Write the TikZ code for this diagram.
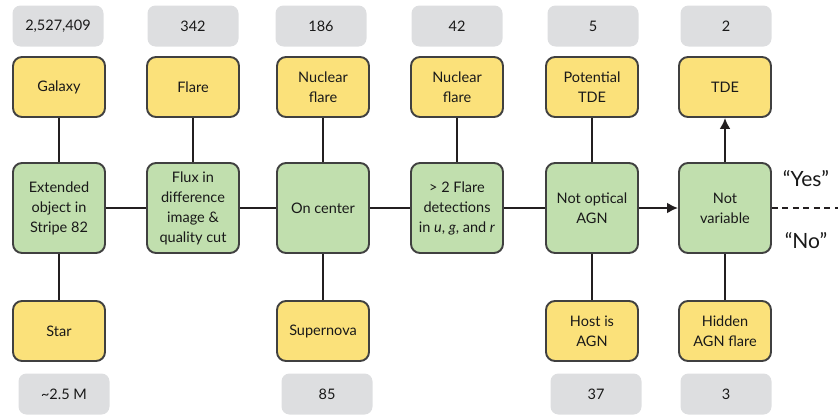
\documentclass[tikz,border=0pt]{standalone}
\usepackage{fontspec}
\setmainfont{Lato}
\usetikzlibrary{arrows.meta}
\definecolor{yel}{HTML}{FBE17A}
\definecolor{grn}{HTML}{C1DFAE}
\definecolor{gry}{HTML}{DDDEE0}
\definecolor{bord}{HTML}{404040}
\definecolor{ln}{HTML}{231F20}
\begin{document}
\begin{tikzpicture}[x=1pt,y=-1pt,
  base/.style={rounded corners=9pt,inner sep=0pt,align=center,font=\fontsize{14.5}{20}\selectfont,text=black!90},
  ybox/.style={base,draw=bord,line width=1.9pt,fill=yel,minimum width=92pt,minimum height=60pt},
  gbox/.style={base,draw=bord,line width=1.9pt,fill=grn,minimum width=92pt,minimum height=90pt},
  cnt/.style={base,fill=gry,rounded corners=8pt,minimum width=91pt,minimum height=41pt},
  conn/.style={draw=ln,line width=2.8pt},
  arr/.style={conn,-{Latex[length=11pt,width=11pt]}},
  ans/.style={font=\fontsize{21}{24}\selectfont,text=black!90}]
\useasboundingbox (0,0) rectangle (838,415);
% top counts
\node[cnt] (c1) at (58,26) {2,527,409};
\node[cnt] (c2) at (193,26) {342};
\node[cnt] (c3) at (321,26) {186};
\node[cnt] (c4) at (457,26) {42};
\node[cnt] (c5) at (593,26) {5};
\node[cnt] (c6) at (726,26) {2};
% top outcomes
\node[ybox] (y1) at (59,87) {Galaxy};
\node[ybox] (y2) at (193,87) {Flare};
\node[ybox] (y3) at (323,87) {Nuclear\\flare};
\node[ybox] (y4) at (457,87) {Nuclear\\flare};
\node[ybox] (y5) at (592,87) {Potential\\TDE};
\node[ybox] (y6) at (725,87) {TDE};
% criteria
\node[gbox] (g1) at (59,208) {Extended\\object in\\Stripe 82};
\node[gbox] (g2) at (193,208) {Flux in\\difference\\image \&\\quality cut};
\node[gbox] (g3) at (323,208) {On center};
\node[gbox] (g4) at (457,208) {> 2 Flare\\detections\\in \textit{u}, \textit{g}, and \textit{r}};
\node[gbox] (g5) at (592,208) {Not optical\\AGN};
\node[gbox] (g6) at (725,208) {Not\\variable};
% bottom outcomes
\node[ybox] (b1) at (59,331) {Star};
\node[ybox] (b3) at (323,331) {Supernova};
\node[ybox] (b5) at (592,331) {Host is\\AGN};
\node[ybox] (b6) at (725,331) {Hidden\\AGN flare};
% bottom counts
\node[cnt] (d1) at (64,394) {\textasciitilde 2.5 M};
\node[cnt] (d3) at (327,394) {85};
\node[cnt] (d5) at (596,394) {37};
\node[cnt] (d6) at (726,394) {3};
% connectors
\draw[conn] (g1) -- (g2);
\draw[conn] (g2) -- (g3);
\draw[conn] (g3) -- (g4);
\draw[conn] (g4) -- (g5);
\draw[arr] (g5) -- (g6);
\draw[conn] (y1) -- (g1);
\draw[conn] (g1) -- (b1);
\draw[conn] (y2) -- (g2);
\draw[conn] (y3) -- (g3);
\draw[conn] (g3) -- (b3);
\draw[conn] (y4) -- (g4);
\draw[conn] (y5) -- (g5);
\draw[conn] (g5) -- (b5);
\draw[arr] (g6) -- (y6);
\draw[conn] (g6) -- (b6);
\coordinate (dend) at (838,208);
\draw[draw=ln,line width=1.8pt,dash pattern=on 6pt off 4.5pt] (g6.east) -- (dend);
\node[ans] (yes) at (806,179) {“Yes”};
\node[ans] (no) at (806,241) {“No”};
\end{tikzpicture}
\end{document}
